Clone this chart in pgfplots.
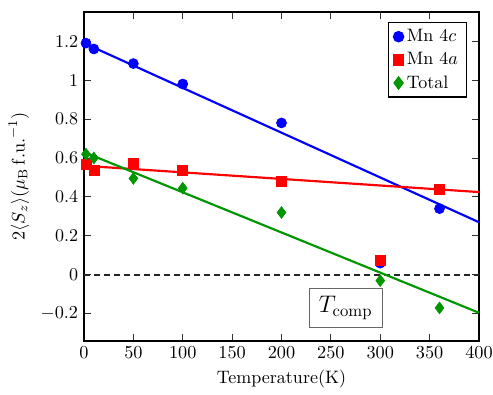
\documentclass[border=0pt]{standalone}
\usepackage{pgfplots}
\pgfplotsset{compat=1.18}
\definecolor{mygreen}{RGB}{0,150,0}
\begin{document}
\begin{tikzpicture}
\begin{axis}[
  name=ax,
  scale only axis,
  width=237pt, height=197.4pt,
  xmin=0, xmax=400, ymin=-0.34, ymax=1.35,
  xtick={0,50,...,400},
  ytick={-0.2,0,0.2,0.4,0.6,0.8,1,1.2},
  yticklabels={$-0.2$,0,0.2,0.4,0.6,0.8,1,1.2},
  major tick length=4pt,
  tick style={line width=0.6pt, black!80},
  tick label style={font=\fontsize{10.8}{13}\selectfont},
  label style={font=\fontsize{10.8}{13}\selectfont},
  xlabel={Temperature(K)},
  ylabel={$2\langle S_z\rangle(\mu_{\mathrm{B}}\,\mathrm{f.u.}^{-1})$},
  axis line style={line width=0.9pt},
  legend style={at={(0.97,0.97)}, anchor=north east, draw=black, line width=0.9pt, font=\fontsize{10.8}{13}\selectfont, row sep=1pt},
  legend cell align=left,
]
\addplot[black!85, line width=1pt, dash pattern=on 3.6pt off 2.4pt, forget plot] coordinates {(0,0) (400,0)};
\addplot[blue, line width=1.3pt, forget plot] coordinates {(0,1.19) (400,0.27)};
\addplot[red, line width=1.3pt, forget plot] coordinates {(0,0.56) (400,0.425)};
\addplot[mygreen, line width=1.3pt, forget plot] coordinates {(0,0.63) (400,-0.195)};
\addplot[only marks, mark=*, mark size=3pt, blue] coordinates {
  (2,1.19) (10,1.16) (50,1.085) (100,0.98) (200,0.78) (300,0.06) (360,0.34)};
\addlegendentry{Mn 4$c$}
\addplot[only marks, mark=square*, mark size=3pt, red] coordinates {
  (2,0.565) (10,0.535) (50,0.575) (100,0.535) (200,0.48) (300,0.075) (360,0.44)};
\addlegendentry{Mn 4$a$}
\addplot[only marks, mark=diamond*, mark size=3.5pt, mygreen] coordinates {
  (2,0.62) (10,0.6) (50,0.495) (100,0.445) (200,0.32) (300,-0.03) (360,-0.17)};
\addlegendentry{Total}
\node[draw=black!60, fill=white, inner sep=4pt, minimum width=44pt, minimum height=23pt, font=\Large] at (axis cs:265,-0.17) {$T_{\mathrm{comp}}$};
\end{axis}
\pgfresetboundingbox
\path[use as bounding box] ([xshift=-50.4pt,yshift=-32.4pt]ax.south west) rectangle ([xshift=8.4pt,yshift=7.2pt]ax.north east);
\end{tikzpicture}
\end{document}
